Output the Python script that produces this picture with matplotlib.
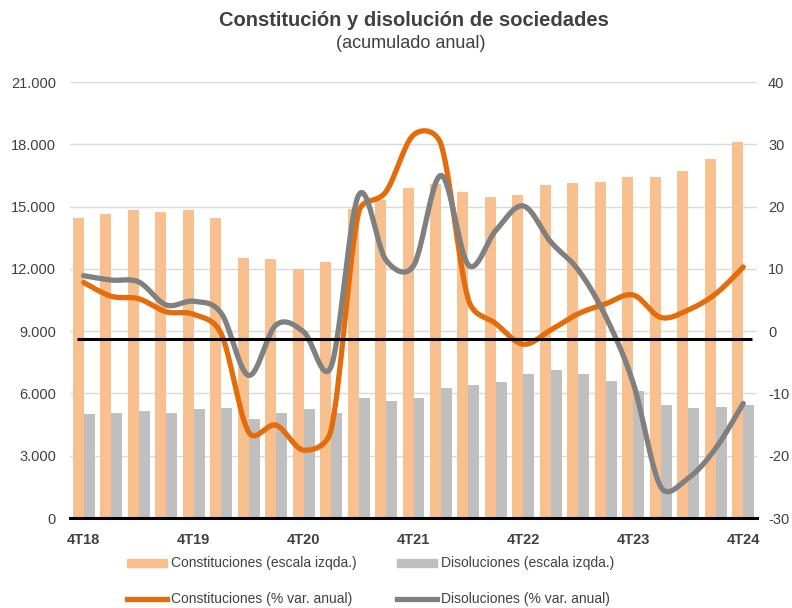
import numpy as np
import matplotlib
matplotlib.use("Agg")
import matplotlib.pyplot as plt
from matplotlib.patches import Patch
from matplotlib.lines import Line2D
from matplotlib.ticker import FuncFormatter

plt.rcParams['font.family'] = ['Liberation Sans', 'DejaVu Sans']
plt.rcParams['axes.unicode_minus'] = False

quarters = ['4T18', '1T19', '2T19', '3T19', '4T19', '1T20', '2T20', '3T20', '4T20',
            '1T21', '2T21', '3T21', '4T21', '1T22', '2T22', '3T22', '4T22',
            '1T23', '2T23', '3T23', '4T23', '1T24', '2T24', '3T24', '4T24']
tick_labels = ['4T18', '4T19', '4T20', '4T21', '4T22', '4T23', '4T24']

constituciones = [14460, 14630, 14840, 14720, 14840, 14460, 12510, 12460, 12010, 12350,
                  14870, 15320, 15900, 16100, 15700, 15460, 15560, 16040, 16150, 16200,
                  16440, 16440, 16700, 17290, 18110]
disoluciones = [4995, 5075, 5140, 5075, 5235, 5285, 4785, 5075, 5235, 5040,
                5780, 5620, 5780, 6260, 6405, 6550, 6940, 7145, 6940, 6600,
                6120, 5430, 5285, 5330, 5430]
constituciones_var = [7.8, 5.6, 5.2, 3.1, 2.7, -0.4, -16.2, -15.1, -19.1, -15.9,
                      19.0, 22.4, 31.5, 30.0, 5.0, 1.2, -2.1, 0.2, 2.8, 4.4,
                      5.8, 2.2, 3.4, 6.0, 10.3]
disoluciones_var = [8.9, 8.2, 7.9, 4.2, 4.8, 2.9, -7.1, 1.0, -0.1, -5.7,
                    21.8, 11.4, 10.5, 25.0, 10.6, 16.2, 20.1, 14.3, 9.8, 2.3,
                    -8.4, -25.0, -23.6, -18.8, -11.6]
reference_level = -1.3

C_BAR = '#F9C08F'
D_BAR = '#BFBFBF'
C_LINE = '#E46C0A'
D_LINE = '#808080'
TXT = '#404040'

# screen scale (px per data unit) used only for curve smoothing
SX, SY = 27.5, 6.23


def smooth(xs, ys, n=30, k=1 / 6.0):
    P = np.column_stack([np.asarray(xs, float) * SX, np.asarray(ys, float) * SY])
    P = np.vstack([P[0], P, P[-1]])
    t = np.linspace(0, 1, n)
    out = []
    for i in range(1, len(P) - 2):
        p0, p1, p2, p3 = P[i - 1], P[i], P[i + 1], P[i + 2]
        seg = np.linalg.norm(p2 - p1)
        t1 = (p2 - p0) * k
        t2 = (p3 - p1) * k
        lim = seg * 0.5
        n1, n2 = np.linalg.norm(t1), np.linalg.norm(t2)
        if n1 > lim:
            t1 = t1 * lim / n1
        if n2 > lim:
            t2 = t2 * lim / n2
        c1 = p1 + t1
        c2 = p2 - t2
        b = ((1 - t) ** 3)[:, None] * p1 + (3 * (1 - t) ** 2 * t)[:, None] * c1 + \
            (3 * (1 - t) * t ** 2)[:, None] * c2 + (t ** 3)[:, None] * p2
        out.append(b)
    out = np.vstack(out)
    return out[:, 0] / SX, out[:, 1] / SY


fig = plt.figure(figsize=(7.92, 6.08), dpi=100)
ax = fig.add_axes([70 / 792, 1 - 518 / 608, 687 / 792, 436 / 608])
ax2 = ax.twinx()

x = np.arange(len(quarters))
w = 0.4
ax.bar(x - w / 2, constituciones, width=w, color=C_BAR, zorder=2)
ax.bar(x + w / 2, disoluciones, width=w, color=D_BAR, zorder=2)

ax.set_ylim(0, 21000)
ax.set_yticks(np.arange(0, 21001, 3000))
ax.yaxis.set_major_formatter(FuncFormatter(lambda v, p: f"{int(v):,}".replace(',', '.')))
ax.grid(axis='y', color='#D9D9D9', linewidth=1, zorder=0)
ax.set_axisbelow(True)
ax.set_xlim(-0.5, len(quarters) - 0.5)
ax.set_xticks(x[::4])
ax.set_xticklabels(tick_labels, fontweight='bold', color=TXT, fontsize=10.5)

for a in (ax, ax2):
    for s in a.spines.values():
        s.set_visible(False)
ax.spines['bottom'].set_visible(True)
ax.spines['bottom'].set_linewidth(2.2)
ax.spines['bottom'].set_color('black')
ax.tick_params(axis='both', length=0)
ax.tick_params(axis='y', pad=10, labelsize=10.5, labelcolor=TXT)
ax.tick_params(axis='x', pad=11)

ax2.set_ylim(-30, 40)
ax2.set_yticks(np.arange(-30, 41, 10))
ax2.tick_params(axis='y', length=0, pad=8, labelsize=10.5, labelcolor=TXT)

sx, sy = smooth(x, constituciones_var)
ax2.plot(sx, sy, color=C_LINE, lw=3.8, solid_capstyle='round', zorder=4)
sx, sy = smooth(x, disoluciones_var)
ax2.plot(sx, sy, color=D_LINE, lw=3.8, solid_capstyle='round', zorder=5)
ax2.hlines(reference_level, -0.25, len(quarters) - 0.68, color='black', lw=2.2, zorder=6)

fig.text(0.523, 1 - 20 / 608, 'Constitución y disolución de sociedades', ha='center', va='center',
         fontsize=14.5, fontweight='bold', color=TXT)
fig.text(0.518, 1 - 43 / 608, '(acumulado anual)', ha='center', va='center',
         fontsize=13, color=TXT)

handles = [Patch(color=C_BAR), Line2D([], [], color=C_LINE, lw=3.8),
           Patch(color=D_BAR), Line2D([], [], color=D_LINE, lw=3.8)]
labels = ['Constituciones (escala izqda.)', 'Constituciones (% var. anual)',
          'Disoluciones (escala izqda.)', 'Disoluciones (% var. anual)']
leg = fig.legend(handles, labels, ncol=2, loc='upper left',
                 bbox_to_anchor=(114 / 792, 1 - 544 / 608), frameon=False,
                 fontsize=10, handlelength=2.9, handleheight=0.5, handletextpad=0.3,
                 columnspacing=2.9, labelspacing=1.55, labelcolor=TXT)

fig.savefig('out.png', dpi=100)
